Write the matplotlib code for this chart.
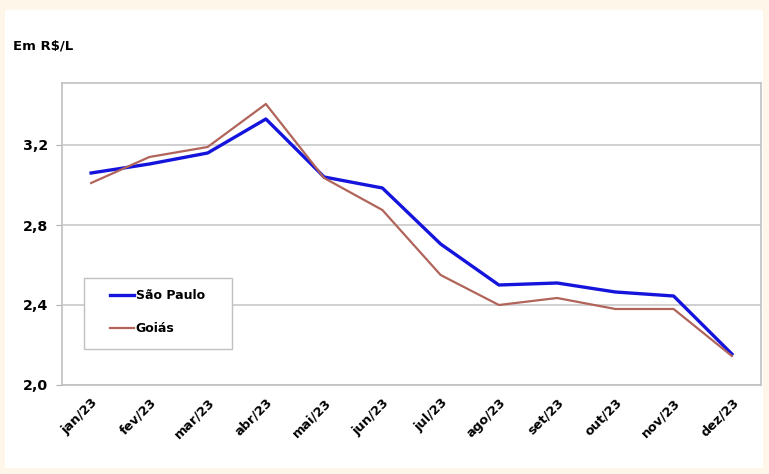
import matplotlib
matplotlib.use("Agg")
import matplotlib.pyplot as plt
from matplotlib.patches import Rectangle
from matplotlib.transforms import ScaledTranslation

months = ["jan/23", "fev/23", "mar/23", "abr/23", "mai/23", "jun/23",
          "jul/23", "ago/23", "set/23", "out/23", "nov/23", "dez/23"]
sao_paulo = [3.06, 3.105, 3.16, 3.33, 3.04, 2.985, 2.705, 2.50, 2.51, 2.465, 2.445, 2.155]
goias = [3.01, 3.14, 3.19, 3.405, 3.035, 2.875, 2.55, 2.40, 2.435, 2.38, 2.38, 2.145]
yticks = [2.0, 2.4, 2.8, 3.2]
ytick_labels = ["2,0", "2,4", "2,8", "3,2"]

plt.rcParams['font.family'] = ['DejaVu Sans']

W, H = 769, 474
fig = plt.figure(figsize=(W / 100, H / 100), dpi=100)
fig.patch.set_facecolor("#FEF6E9")
bg = Rectangle((5 / W, 1 - 468 / H), (763 - 5) / W, (468 - 10) / H,
               transform=fig.transFigure, facecolor="white",
               edgecolor="none", zorder=-10)
fig.patches.append(bg)

L, R, T, B = 62, 761, 83, 385
ax = fig.add_axes([L / W, 1 - B / H, (R - L) / W, (B - T) / H])
ax.set_zorder(5)
ax.set_facecolor("white")
x = list(range(len(months)))
ax.plot(x, sao_paulo, color="#1414DC", lw=2.4, label="São Paulo", zorder=3)
ax.plot(x, goias, color="#B0645A", lw=1.6, label="Goiás", zorder=3)

ax.set_xlim(-0.5, len(months) - 0.5)
ax.set_ylim(2.0, 3.51)
ax.set_yticks(yticks)
ax.set_yticklabels(ytick_labels, fontsize=10.2, fontweight="bold")
ax.set_xticks(x)
ax.set_xticklabels(months, rotation=45, ha="right", rotation_mode="anchor",
                   fontsize=9.3, fontweight="bold")
shift = ScaledTranslation(-4 / 100, 0, fig.dpi_scale_trans)
for lbl in ax.get_xticklabels():
    lbl.set_transform(lbl.get_transform() + shift)
ax.tick_params(axis="x", length=0, pad=8)
ax.tick_params(axis="y", length=4, color="#b0b0b0", pad=6)
ax.grid(axis="y", color="#c8c8c8", lw=1.2)
ax.set_axisbelow(True)
for s in ax.spines.values():
    s.set_color("#c0c0c0")
    s.set_linewidth(1.2)

def ax_x(px):
    return (px - L) / (R - L)

def ax_y(py):
    return (B - py) / (B - T)

# legend frame
ax.add_patch(Rectangle((ax_x(84), ax_y(349)), ax_x(232) - ax_x(84), ax_y(278) - ax_y(349),
                       transform=ax.transAxes, facecolor="white", edgecolor="#c0c0c0",
                       lw=1.0, zorder=6))
leg = ax.legend(loc="upper left", bbox_to_anchor=(ax_x(110), ax_y(289)),
                frameon=False, prop={"weight": "bold", "size": 9},
                handlelength=1.9, handletextpad=0.15,
                labelspacing=1.6, borderpad=0, borderaxespad=0)
leg.set_zorder(7)

fig.text(13 / W, 1 - 46 / H, "Em R$/L", fontsize=9.5, fontweight="bold", va="center")

fig.savefig("out.png", dpi=100, facecolor=fig.get_facecolor())
